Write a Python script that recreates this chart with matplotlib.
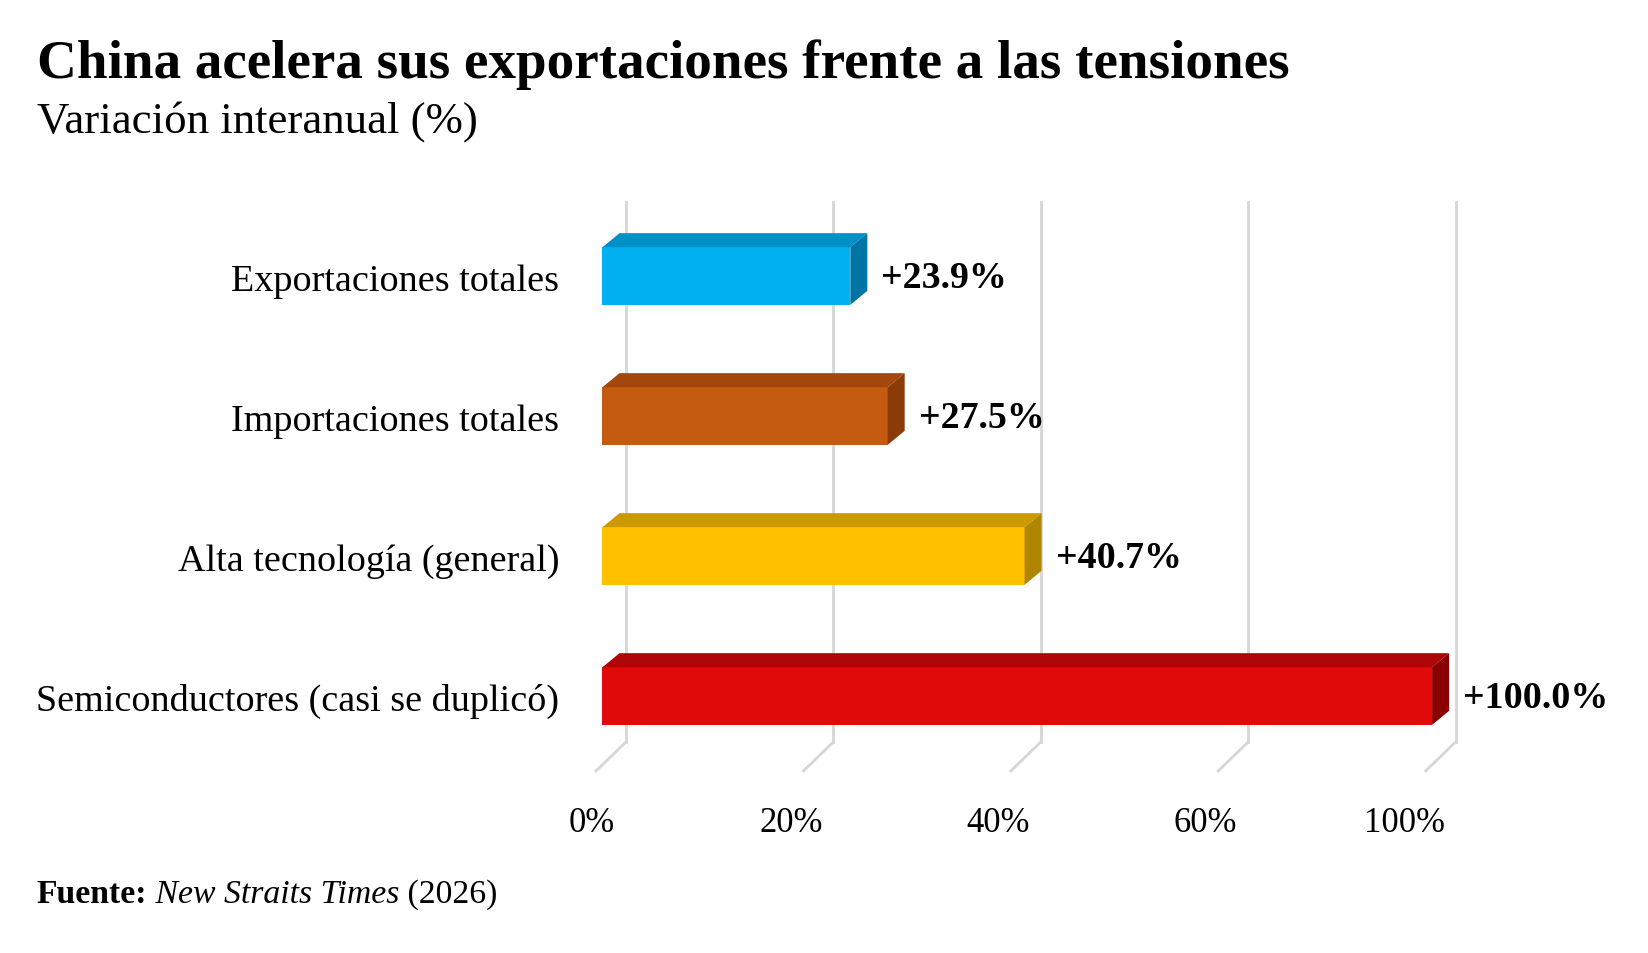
import matplotlib
matplotlib.use("Agg")
import matplotlib.pyplot as plt
import numpy as np
from matplotlib.patches import Polygon
from matplotlib.lines import Line2D
from matplotlib.transforms import IdentityTransform, ScaledTranslation

# ---------------- data ----------------
categories = ["Exportaciones totales", "Importaciones totales",
              "Alta tecnología (general)", "Semiconductores (casi se duplicó)"]
values = [23.9, 27.5, 40.7, 100.0]
value_labels = ["+23.9%", "+27.5%", "+40.7%", "+100.0%"]
tick_values = [0, 20, 40, 60, 100]
tick_labels = ["0%", "20%", "40%", "60%", "100%"]

front_colors = ["#00b0f0", "#c55a11", "#ffc000", "#e00a0a"]
top_colors = ["#0090c8", "#a3470c", "#cc9a00", "#ae0606"]
side_colors = ["#0075a5", "#8a3b08", "#b08500", "#8a0000"]

title = "China acelera sus exportaciones frente a las tensiones"
subtitle = "Variación interanual (%)"
source_parts = [("Fuente:", "bold", "normal"),
                (" New Straits Times", "normal", "italic"),
                (" (2026)", "normal", "normal")]

FONT = "Liberation Serif"
W, H, DPI = 1649, 954, 100
fig = plt.figure(figsize=(W / DPI, H / DPI), dpi=DPI)
fig.patch.set_facecolor("white")
renderer = fig.canvas.get_renderer()

# axes = middle depth plane of the pseudo-3D chart
ax_left, ax_right, ax_top, ax_bot = 611, 1440.6, 200, 760
ax = fig.add_axes([ax_left / W, 1 - ax_bot / H,
                   (ax_right - ax_left) / W, (ax_bot - ax_top) / H])


def fwd(x):
    x = np.asarray(x, float)
    return np.where(x <= 60, x, 60 + (x - 60) / 2)


def inv(y):
    y = np.asarray(y, float)
    return np.where(y <= 60, y, 60 + (y - 60) * 2)


ax.set_xscale("function", functions=(fwd, inv))
ax.set_xlim(0, 100)
ax.set_ylim(len(categories) - 0.5, -0.5)
ax.axis("off")

BACK = (15, 14.5)      # back wall offset (display px, y up)
BF = (-8.5, -7)        # bar front face offset
BB = (8.5, 7)          # bar back face offset
grid_top, grid_bot = -0.375, 3.482
bar_h = 0.412
grid_color = "#d6d6d6"


def D(x, y):
    return ax.transData.transform((x, y))


# gridlines on back wall + floor slants
back_tr = ax.transData + ScaledTranslation(BACK[0] / DPI, BACK[1] / DPI, fig.dpi_scale_trans)
for t in tick_values:
    ax.add_line(Line2D([t, t], [grid_top, grid_bot], transform=back_tr,
                       color=grid_color, lw=2.0, zorder=1, clip_on=False))
    p = D(t, grid_bot)
    ax.add_line(Line2D([p[0] + BACK[0], p[0] - BACK[0]], [p[1] + BACK[1], p[1] - BACK[1]],
                       transform=IdentityTransform(), color=grid_color, lw=2.0,
                       zorder=1, clip_on=False))

# bars
front_tr = ax.transData + ScaledTranslation(BF[0] / DPI, BF[1] / DPI, fig.dpi_scale_trans)
ys = np.arange(len(categories))
ax.barh(ys, values, height=bar_h, color=front_colors, transform=front_tr,
        zorder=4, clip_on=False, linewidth=0)


def off(p, o):
    return (p[0] + o[0], p[1] + o[1])


for i, v in enumerate(values):
    tl, tr = D(0, i - bar_h / 2), D(v, i - bar_h / 2)
    br = D(v, i + bar_h / 2)
    top = [off(tl, BF), off(tr, BF), off(tr, BB), off(tl, BB)]
    side = [off(tr, BF), off(tr, BB), off(br, BB), off(br, BF)]
    fig.add_artist(Polygon(top, closed=True, transform=IdentityTransform(),
                           facecolor=top_colors[i], edgecolor="none", zorder=3))
    fig.add_artist(Polygon(side, closed=True, transform=IdentityTransform(),
                           facecolor=side_colors[i], edgecolor="none", zorder=3))


def fit(txt, target_w):
    bb = txt.get_window_extent(renderer=renderer)
    txt.set_fontsize(txt.get_fontsize() * target_w / bb.width)
    return txt.get_fontsize()


# title & subtitle
t1 = fig.text(37 / W, 1 - 78.3 / H, title, family=FONT, fontweight="bold",
              fontsize=42, ha="left", va="baseline", color="black")
fit(t1, 1256)
t2 = fig.text(37 / W, 1 - 133 / H, subtitle, family=FONT, fontsize=32,
              ha="left", va="baseline", color="black")
fit(t2, 442)

# category labels
probe = fig.text(0, 0, categories[-1], family=FONT, fontsize=26)
cat_fs = fit(probe, 522)
probe.remove()
for i, c in enumerate(categories):
    yd = D(0, i)[1]
    fig.text(559 / W, (yd - 20.7) / H, c, family=FONT, fontsize=cat_fs,
             ha="right", va="baseline", color="black")

# value labels
probe = fig.text(0, 0, value_labels[0], family=FONT, fontweight="bold", fontsize=26)
val_fs = fit(probe, 126)
probe.remove()
for i, (v, lab) in enumerate(zip(values, value_labels)):
    p = D(v, i)
    fig.text((p[0] + 22.5) / W, (p[1] - 18) / H, lab, family=FONT, fontweight="bold",
             fontsize=val_fs, ha="left", va="baseline", color="black", zorder=6)

# tick labels
probe = fig.text(0, 0, "100%", family=FONT, fontsize=26)
tick_fs = fit(probe, 80.6)
probe.remove()
for t, lab in zip(tick_values, tick_labels):
    p = D(t, 0)
    fig.text((p[0] + 4) / W, 1 - 832 / H, lab, family=FONT, fontsize=tick_fs,
             ha="right", va="baseline", color="black")

# source line
def draw_source(fs):
    x = 36.4
    arts = []
    for txt, wgt, sty in source_parts:
        a = fig.text(x / W, 1 - 902.7 / H, txt, family=FONT, fontweight=wgt,
                     fontstyle=sty, fontsize=fs, ha="left", va="baseline", color="black")
        bb = a.get_window_extent(renderer=renderer)
        x = bb.x1
        arts.append(a)
    return arts, x - 36.4


arts, wtot = draw_source(23)
for a in arts:
    a.remove()
draw_source(23 * 463 / wtot)

fig.savefig("out.png", dpi=DPI, facecolor="white")
